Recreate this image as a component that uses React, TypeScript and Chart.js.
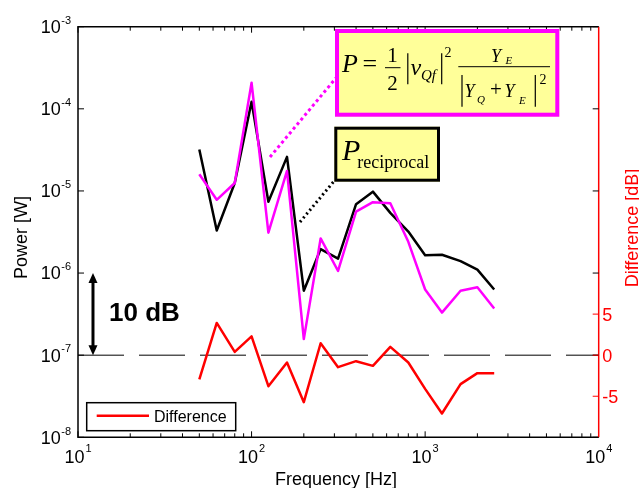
import React, { useEffect, useRef } from 'react';
import { Chart, registerables } from 'chart.js';

Chart.register(...registerables);

// ---- data ----
const freqs = [50, 63, 80, 100, 125, 160, 200, 250, 315, 400, 500, 630, 800, 1000, 1250, 1600, 2000, 2500];
const powerReciprocal = [3.2e-5, 3.3e-6, 1.25e-5, 1.22e-4, 7.4e-6, 2.6e-5, 6.1e-7, 1.96e-6, 1.5e-6, 6.9e-6, 9.8e-6, 5.4e-6, 3.2e-6, 1.65e-6, 1.67e-6, 1.4e-6, 1.1e-6, 6.3e-7];
const powerFormula = [1.6e-5, 7.8e-6, 1.25e-5, 2.08e-4, 3.1e-6, 1.75e-5, 1.57e-7, 2.64e-6, 1.06e-6, 5.6e-6, 7.3e-6, 7.1e-6, 2.4e-6, 6.3e-7, 3.3e-7, 6.1e-7, 6.7e-7, 3.7e-7];
const differenceDb = [-2.96, 3.93, 0.4, 2.3, -3.78, -0.89, -5.72, 1.45, -1.46, -0.73, -1.3, 1.01, -0.89, -4.1, -7.1, -3.53, -2.19, -2.19];

const zeroLineFreqs = [10, 10000];
const zeroLineDb = [0, 0];

const xTickExps = [1, 2, 3, 4];
const yTickExps = [-8, -7, -6, -5, -4, -3];
const diffTickVals = [-5, 0, 5];

const arrowFreq = 12.2;
const arrowRange = [1e-7, 1e-6];

const SANS = '"Liberation Sans", Arial, sans-serif';
const SERIF = '"Liberation Serif", "Times New Roman", serif';
const RED = '#ff0000';
const MAGENTA = '#ff00ff';
const YELLOW = '#ffff99';

function pts(xs: number[], ys: number[]) {
  return xs.map((x, i) => ({ x, y: ys[i] }));
}

const drawPlugin = {
  id: 'customDecor',
  afterDatasetsDraw(chart: any) {
    const ctx: CanvasRenderingContext2D = chart.ctx;
    const { left, right, top, bottom } = chart.chartArea;
    const xs = chart.scales.x;
    const ys = chart.scales.y;
    const y2 = chart.scales.y2;

    const line = (x1: number, y1: number, x2: number, y2_: number) => {
      ctx.beginPath();
      ctx.moveTo(x1, y1);
      ctx.lineTo(x2, y2_);
      ctx.stroke();
    };
    const text = (s: string, x: number, y: number, font: string, align: CanvasTextAlign = 'left', color = '#000') => {
      ctx.font = font;
      ctx.textAlign = align;
      ctx.textBaseline = 'alphabetic';
      ctx.fillStyle = color;
      ctx.fillText(s, x, y);
    };

    ctx.save();

    // ---- frame ----
    ctx.lineWidth = 1.5;
    ctx.strokeStyle = '#000';
    ctx.beginPath();
    ctx.moveTo(right, top);
    ctx.lineTo(left, top);
    ctx.lineTo(left, bottom);
    ctx.lineTo(right, bottom);
    ctx.stroke();
    ctx.strokeStyle = RED;
    line(right, top, right, bottom);

    // ---- x ticks (inward, top and bottom) ----
    ctx.lineWidth = 1;
    ctx.strokeStyle = '#000';
    for (let e = 1; e <= 3; e++) {
      for (let m = 1; m <= 9; m++) {
        const px = xs.getPixelForValue(m * Math.pow(10, e));
        const len = m === 1 ? 6 : 4;
        line(px, bottom, px, bottom - len);
        line(px, top, px, top + len);
      }
    }
    // ---- y ticks ----
    for (const e of yTickExps) {
      const py = ys.getPixelForValue(Math.pow(10, e));
      line(left, py, left + 6, py);
      line(right, py, right - 6, py);
    }
    ctx.strokeStyle = RED;
    for (const v of diffTickVals) {
      const py = y2.getPixelForValue(v);
      line(right, py, right - 6, py);
    }

    // ---- x tick labels ----
    const baseFont = `18px ${SANS}`;
    const expFont = `11px ${SANS}`;
    for (const e of xTickExps) {
      const px = xs.getPixelForValue(Math.pow(10, e));
      ctx.font = baseFont;
      const wb = ctx.measureText('10').width;
      ctx.font = expFont;
      const we = ctx.measureText(String(e)).width;
      const start = px - (wb + 1 + we) / 2;
      text('10', start, bottom + 25.4, baseFont);
      text(String(e), start + wb + 1, bottom + 14.7, expFont);
    }
    // ---- y tick labels ----
    for (const e of yTickExps) {
      const py = ys.getPixelForValue(Math.pow(10, e));
      ctx.font = expFont;
      const we = ctx.measureText(String(e)).width;
      const rx = left - 7;
      text(String(e), rx - we, py - 2.7, expFont);
      text('10', rx - we - 0.5, py + 6.4, baseFont, 'right');
    }
    // ---- right tick labels ----
    for (const v of diffTickVals) {
      const py = y2.getPixelForValue(v);
      text(String(v), right + 3.5, py + 6.4, baseFont, 'left', RED);
    }

    // ---- axis titles ----
    text('Frequency [Hz]', 336, 485, `18px ${SANS}`, 'center');
    ctx.save();
    ctx.translate(27, 237.5);
    ctx.rotate(-Math.PI / 2);
    text('Power [W]', 0, 0, `18px ${SANS}`, 'center');
    ctx.restore();
    ctx.save();
    ctx.translate(637.5, 228);
    ctx.rotate(-Math.PI / 2);
    text('Difference [dB]', 0, 0, `18px ${SANS}`, 'center', RED);
    ctx.restore();

    // ---- legend ----
    ctx.fillStyle = '#fff';
    ctx.fillRect(86.7, 402.7, 149, 28);
    ctx.lineWidth = 1.5;
    ctx.strokeStyle = '#000';
    ctx.strokeRect(86.7, 402.7, 149, 28);
    ctx.lineWidth = 2.5;
    ctx.strokeStyle = RED;
    line(96.7, 415.7, 149, 415.7);
    text('Difference', 154, 421.5, `16px ${SANS}`);

    // ---- 10 dB arrow ----
    const ax = xs.getPixelForValue(arrowFreq);
    const ayB = ys.getPixelForValue(arrowRange[0]);
    const ayT = ys.getPixelForValue(arrowRange[1]);
    ctx.strokeStyle = '#000';
    ctx.fillStyle = '#000';
    ctx.lineWidth = 3;
    line(ax, ayT + 6, ax, ayB - 6);
    ctx.beginPath();
    ctx.moveTo(ax, ayT);
    ctx.lineTo(ax - 4.5, ayT + 10);
    ctx.lineTo(ax + 4.5, ayT + 10);
    ctx.closePath();
    ctx.fill();
    ctx.beginPath();
    ctx.moveTo(ax, ayB);
    ctx.lineTo(ax - 4.5, ayB - 10);
    ctx.lineTo(ax + 4.5, ayB - 10);
    ctx.closePath();
    ctx.fill();
    text('10 dB', 109, 321, `bold 26px ${SANS}`);

    // ---- leader lines ----
    ctx.lineWidth = 3;
    ctx.strokeStyle = MAGENTA;
    ctx.setLineDash([3, 3]);
    line(270, 157, 336, 78);
    ctx.strokeStyle = '#000';
    ctx.setLineDash([2, 3]);
    line(300, 222, 335, 180);
    ctx.setLineDash([]);

    // ---- formula box ----
    ctx.fillStyle = YELLOW;
    ctx.fillRect(335, 29, 224.3, 87.7);
    ctx.lineWidth = 4;
    ctx.strokeStyle = MAGENTA;
    ctx.strokeRect(337, 31, 220.3, 83.7);

    const it = (px: number) => `italic ${px}px ${SERIF}`;
    const rm = (px: number) => `${px}px ${SERIF}`;
    text('P', 342, 72, it(26));
    text('=', 362.5, 72, rm(26));
    text('1', 392.5, 62.3, rm(21), 'center');
    text('2', 392.5, 89.5, rm(21), 'center');
    ctx.lineWidth = 1;
    ctx.strokeStyle = '#000';
    line(385, 67.7, 400.5, 67.7);
    ctx.lineWidth = 1.2;
    line(407.8, 53.3, 407.8, 84.3);
    text('v', 410.5, 75, it(24));
    text('Qf', 421, 80, it(15));
    line(441.7, 53.3, 441.7, 84.3);
    text('2', 444.5, 57, rm(14));
    ctx.lineWidth = 1;
    line(458.3, 66.7, 550, 66.7);
    text('Y', 491, 61.7, it(18));
    text('E', 505.5, 63.5, it(11));
    ctx.lineWidth = 1.2;
    line(462, 75, 462, 106.7);
    text('Y', 464.5, 96.7, it(18));
    text('Q', 477, 103, it(11));
    text('+', 496, 96, rm(21), 'center');
    text('Y', 504.5, 96.7, it(18));
    text('E', 519, 103.5, it(11));
    line(535.3, 75, 535.3, 106.7);
    text('2', 539.5, 83.5, rm(14));

    // ---- P reciprocal box ----
    ctx.fillStyle = YELLOW;
    ctx.fillRect(334.3, 126.7, 105.7, 55);
    ctx.lineWidth = 3;
    ctx.strokeStyle = '#000';
    ctx.strokeRect(335.8, 128.2, 102.7, 52);
    text('P', 342, 160, it(30));
    text('reciprocal', 357.3, 168.3, rm(18));

    ctx.restore();
  },
};

export default function App() {
  const ref = useRef<HTMLCanvasElement>(null);
  useEffect(() => {
    document.body.style.margin = '0';
    const canvas = ref.current!;
    const chart = new Chart(canvas, {
      type: 'line',
      data: {
        datasets: [
          {
            label: 'P reciprocal',
            data: pts(freqs, powerReciprocal),
            borderColor: '#000',
            borderWidth: 2.5,
            borderJoinStyle: 'round',
            pointRadius: 0,
            fill: false,
            yAxisID: 'y',
            order: 3,
          },
          {
            label: 'P formula',
            data: pts(freqs, powerFormula),
            borderColor: MAGENTA,
            borderWidth: 2.5,
            borderJoinStyle: 'round',
            pointRadius: 0,
            fill: false,
            yAxisID: 'y',
            order: 2,
          },
          {
            label: 'Difference',
            data: pts(freqs, differenceDb),
            borderColor: RED,
            borderWidth: 2.5,
            borderJoinStyle: 'round',
            pointRadius: 0,
            fill: false,
            yAxisID: 'y2',
            order: 1,
          },
          {
            label: 'zero',
            data: pts(zeroLineFreqs, zeroLineDb),
            borderColor: '#000',
            borderWidth: 1,
            borderDash: [46, 15],
            pointRadius: 0,
            fill: false,
            yAxisID: 'y2',
            order: 4,
          },
        ],
      },
      options: {
        responsive: false,
        animation: false,
        devicePixelRatio: 1,
        parsing: true,
        layout: { padding: { top: 26.7, left: 0, right: 0, bottom: 0 } },
        plugins: { legend: { display: false }, tooltip: { enabled: false } },
        scales: {
          x: {
            type: 'logarithmic',
            position: 'bottom',
            min: 10,
            max: 10000,
            ticks: { display: false },
            grid: { display: false },
            border: { display: false },
            afterFit: (s: any) => { s.height = 50.7; },
          },
          y: {
            type: 'logarithmic',
            position: 'left',
            min: 1e-8,
            max: 1e-3,
            ticks: { display: false },
            grid: { display: false },
            border: { display: false },
            afterFit: (s: any) => { s.width = 78; },
          },
          y2: {
            type: 'linear',
            position: 'right',
            min: -10,
            max: 40,
            ticks: { display: false },
            grid: { display: false },
            border: { display: false },
            afterFit: (s: any) => { s.width = 40.3; },
          },
        },
      } as any,
      plugins: [drawPlugin],
    });
    return () => chart.destroy();
  }, []);
  return <canvas ref={ref} width={639} height={488} style={{ display: 'block' }} />;
}
